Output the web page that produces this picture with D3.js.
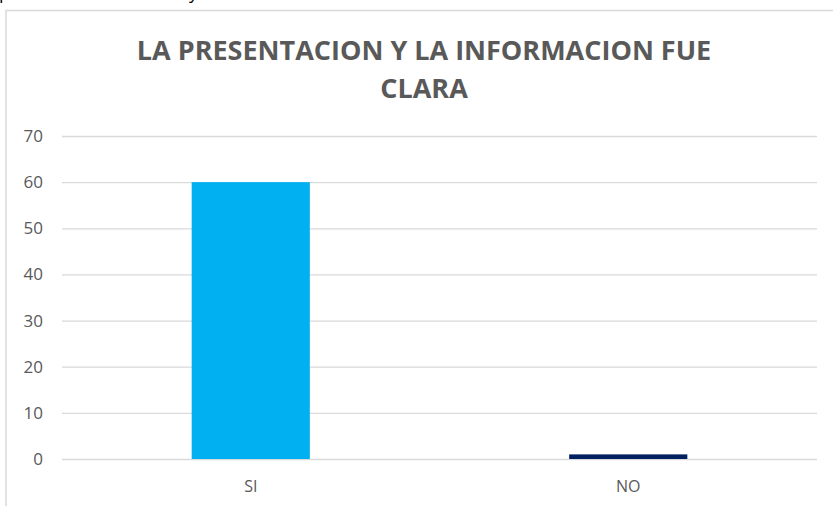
<!DOCTYPE html>
<html>
<head>
<meta charset="utf-8">
<script src="https://cdn.jsdelivr.net/npm/d3@7"></script>
<style>
  body { margin: 0; background: #fff; }
  svg { display: block; }
  text { font-family: "Open Sans", "Noto Sans", sans-serif; }
</style>
</head>
<body>
<script>
const categories = ["SI", "NO"];
const values = [60, 1];
const barColors = ["#00B0F0", "#002060"];
const yTicks = [0, 10, 20, 30, 40, 50, 60, 70];
const titleLines = ["LA PRESENTACION Y LA INFORMACION FUE", "CLARA"];

const width = 833, height = 506;
const plot = { left: 62, right: 817, top: 136, bottom: 459 };

const svg = d3.select("body").append("svg")
  .attr("width", width)
  .attr("height", height);

// bits of the document text above the chart (cut off at the top)
svg.append("text").attr("x", -1).attr("y", -1).attr("font-size", 18).attr("fill", "#000").text("p");
svg.append("text").attr("x", 189).attr("y", -1).attr("font-size", 18).attr("fill", "#000").text("y");

// chart frame
svg.append("rect")
  .attr("x", 6).attr("y", 10.5)
  .attr("width", 900).attr("height", 600)
  .attr("fill", "none")
  .attr("stroke", "#d9d9d9")
  .attr("stroke-width", 1.5);

// title
svg.append("g").selectAll("text")
  .data(titleLines)
  .join("text")
  .attr("x", 424)
  .attr("y", (d, i) => 60 + i * 38)
  .attr("text-anchor", "middle")
  .attr("font-size", 27)
  .attr("font-weight", "bold")
  .attr("fill", "#595959")
  .text((d) => d);

const x = d3.scaleBand()
  .domain(categories)
  .range([plot.left, plot.right])
  .paddingInner(0.687)
  .paddingOuter(0.3435);

const y = d3.scaleLinear()
  .domain([0, 70])
  .range([plot.bottom, plot.top]);

// gridlines + y labels
const yAxis = d3.axisLeft(y)
  .tickValues(yTicks)
  .tickSize(-(plot.right - plot.left))
  .tickPadding(19);

const gy = svg.append("g")
  .attr("transform", `translate(${plot.left},0)`)
  .call(yAxis);
gy.select(".domain").remove();
gy.selectAll(".tick line").attr("stroke", "#d9d9d9").attr("stroke-width", 1.3);
gy.selectAll(".tick text")
  .attr("font-size", 17)
  .attr("fill", "#595959")
  .attr("font-family", "Open Sans, sans-serif");

// bars
svg.append("g").selectAll("rect")
  .data(values)
  .join("rect")
  .attr("x", (d, i) => x(categories[i]))
  .attr("width", x.bandwidth())
  .attr("y", (d) => y(d))
  .attr("height", (d) => y(0) - y(d))
  .attr("fill", (d, i) => barColors[i]);

// x labels
const xAxis = d3.axisBottom(x).tickSize(0).tickPadding(22);
const gx = svg.append("g")
  .attr("transform", `translate(0,${plot.bottom})`)
  .call(xAxis);
gx.select(".domain").remove();
gx.selectAll(".tick text")
  .attr("font-size", 16)
  .attr("fill", "#595959")
  .attr("font-family", "Open Sans, sans-serif");
</script>
</body>
</html>
